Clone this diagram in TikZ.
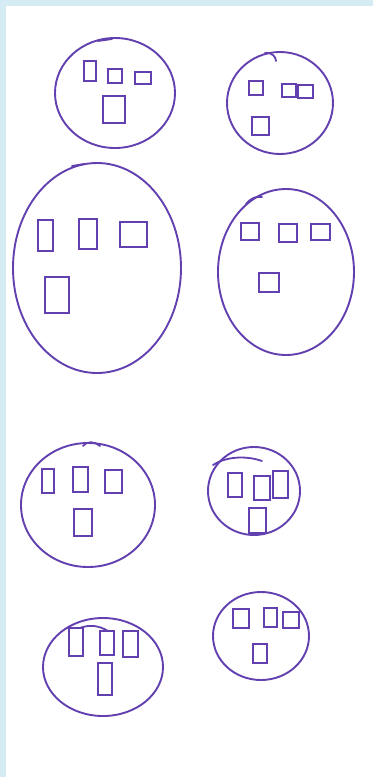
\documentclass[tikz,border=0pt]{standalone}
\usepackage{tikz}
\usetikzlibrary{shapes.geometric}
\definecolor{penink}{HTML}{6240B0}
\definecolor{edgeblue}{HTML}{D5ECF5}

\begin{document}
\begin{tikzpicture}[
  x=1pt,y=-1pt,
  blob/.style={ellipse,draw=penink,line width=1.9pt,inner sep=0pt},
  box/.style={draw=penink,line width=2pt,inner sep=0pt,
    minimum width=#1},
  box/.default=13pt,
  stroke/.style={draw=penink,line width=1.8pt,line cap=round}
]
\useasboundingbox (0,0) rectangle (373,777);
\fill[white] (0,0) rectangle (373,777);
\fill[edgeblue] (0,0) rectangle (373,6);
\fill[edgeblue] (0,0) rectangle (6,777);
% top row
\node[blob,minimum width=120pt,minimum height=110pt] (c1) at (115,93) {};
\node[box=12pt,minimum height=20pt] (c1a) at (90,71) {};
\node[box=14pt,minimum height=14pt] (c1b) at (115,76) {};
\node[box=16pt,minimum height=12pt] (c1c) at (143,78) {};
\node[box=22pt,minimum height=27pt] (c1d) at (114,109) {};
\draw[stroke] (98,41) -- (112,39);
\node[blob,minimum width=106pt,minimum height=102pt] (c2) at (280,103) {};
\node[box=14pt,minimum height=14pt] (c2a) at (256,88) {};
\node[box=14pt,minimum height=13pt] (c2b) at (289,90) {};
\node[box=15pt,minimum height=13pt] (c2c) at (305,91) {};
\node[box=17pt,minimum height=18pt] (c2d) at (260,126) {};
\draw[stroke] (265,53) .. controls (272,52) and (276,57) .. (276,61);
% middle row
\node[blob,minimum width=168pt,minimum height=210pt] (c3) at (97,268) {};
\node[box=15pt,minimum height=31pt] (c3a) at (45,235) {};
\node[box=18pt,minimum height=30pt] (c3b) at (88,234) {};
\node[box=27pt,minimum height=25pt] (c3c) at (133,234) {};
\node[box=24pt,minimum height=36pt] (c3d) at (57,295) {};
\draw[stroke] (72,166) -- (84,164);
\node[blob,minimum width=136pt,minimum height=166pt] (c4) at (286,272) {};
\node[box=18pt,minimum height=17pt] (c4a) at (250,231) {};
\node[box=18pt,minimum height=18pt] (c4b) at (288,233) {};
\node[box=19pt,minimum height=16pt] (c4c) at (320,232) {};
\node[box=20pt,minimum height=19pt] (c4d) at (269,282) {};
\draw[stroke] (246,204) .. controls (251,198) and (256,196) .. (262,197);
% lower rows
\node[blob,minimum width=134pt,minimum height=124pt] (c5) at (88,505) {};
\node[box=12pt,minimum height=24pt] (c5a) at (48,481) {};
\node[box=15pt,minimum height=25pt] (c5b) at (80,479) {};
\node[box=17pt,minimum height=23pt] (c5c) at (113,481) {};
\node[box=18pt,minimum height=27pt] (c5d) at (83,522) {};
\draw[stroke] (83,446) .. controls (86,441) and (95,441) .. (100,446);
\node[blob,minimum width=92pt,minimum height=88pt] (c6) at (254,491) {};
\node[box=14pt,minimum height=24pt] (c6a) at (235,485) {};
\node[box=16pt,minimum height=24pt] (c6b) at (262,488) {};
\node[box=15pt,minimum height=27pt] (c6c) at (280,484) {};
\node[box=17pt,minimum height=25pt] (c6d) at (257,520) {};
\draw[stroke] (213,465) .. controls (225,457) and (245,455) .. (262,461);
\node[blob,minimum width=120pt,minimum height=98pt] (c7) at (103,667) {};
\node[box=14pt,minimum height=28pt] (c7a) at (76,642) {};
\node[box=14pt,minimum height=24pt] (c7b) at (107,643) {};
\node[box=15pt,minimum height=26pt] (c7c) at (130,644) {};
\node[box=14pt,minimum height=32pt] (c7d) at (105,679) {};
\draw[stroke] (80,628) .. controls (90,624) and (100,626) .. (108,631);
\node[blob,minimum width=96pt,minimum height=88pt] (c8) at (261,636) {};
\node[box=16pt,minimum height=19pt] (c8a) at (241,618) {};
\node[box=13pt,minimum height=19pt] (c8b) at (270,617) {};
\node[box=16pt,minimum height=16pt] (c8c) at (291,620) {};
\node[box=14pt,minimum height=19pt] (c8d) at (260,653) {};
\end{tikzpicture}
\end{document}
